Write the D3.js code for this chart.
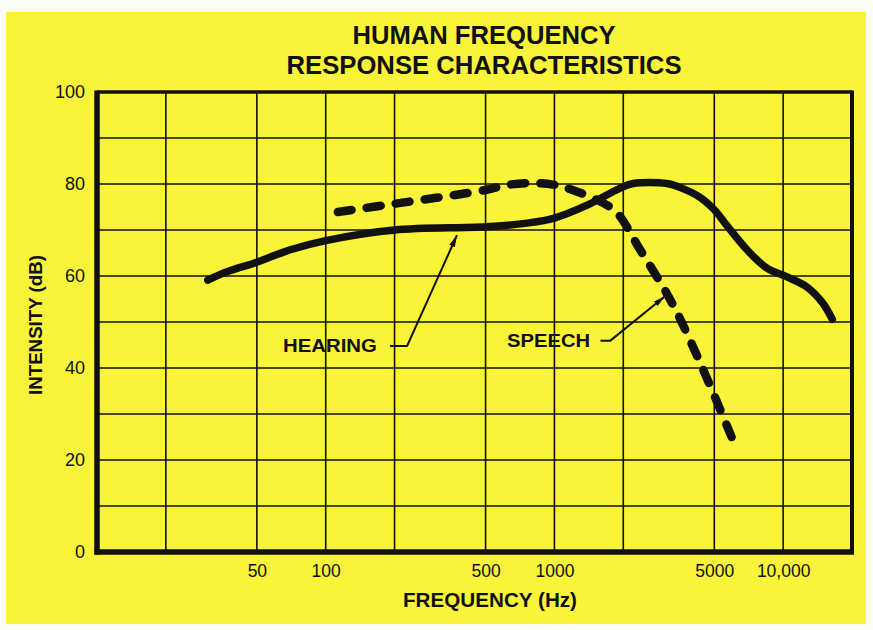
<!DOCTYPE html>
<html>
<head>
<meta charset="utf-8">
<script src="https://cdn.jsdelivr.net/npm/d3@7"></script>
<style>
  html, body { margin: 0; padding: 0; background: #fcfcf6; }
  svg { display: block; }
  text { font-family: "Liberation Sans", Arial, Helvetica, sans-serif; fill: #111; }
</style>
</head>
<body>
<svg id="chart" width="873" height="630"></svg>
<script>
// Frequency grid (Hz) and labelled ticks
const gridFreqs = [10, 20, 50, 100, 200, 500, 1000, 2000, 5000, 10000, 20000];
const tickFreqs = [50, 100, 500, 1000, 5000, 10000];
const tickLabels = ["50", "100", "500", "1000", "5000", "10,000"];
// Intensity grid (dB) and labelled ticks
const gridDb = [0, 10, 20, 30, 40, 50, 60, 70, 80, 90, 100];
const dbTicks = [0, 20, 40, 60, 80, 100];

// Hearing response curve
const hearingFreq = [30.5, 37, 50, 70, 100, 200, 500, 760, 1000, 1390, 1940, 2210, 3100, 3600, 4300, 5000, 5690, 6950, 8500, 10400, 12700, 14900, 16400];
const hearingDb   = [59.1, 60.9, 63, 65.7, 67.7, 70, 70.7, 71.5, 72.6, 75.4, 79.1, 80.1, 80.1, 79.1, 77.2, 74.4, 70.9, 65.7, 61.7, 59.8, 57.6, 54.1, 50.6];

// Speech intensity curve
const speechFreq = [113, 200, 500, 621, 806, 1000, 1200, 1630, 1880, 2370, 3270, 4420, 5950];
const speechDb   = [73.9, 75.7, 78.7, 79.8, 80.2, 79.8, 78.7, 75.9, 73.7, 65.7, 54.1, 40.2, 25.0];

// Callout labels: text anchor and leader line (elbow then tip), in data units
const labelNames = ["HEARING", "SPEECH"];
const labelFreq = [65, 621];
const labelDb = [43.5, 44.6];
const leaderStartFreq = [191, 1590];
const leaderElbowFreq = [227, 1750];
const leaderElbowDb = [44.8, 45.9];
const leaderTipFreq = [375, 3045];
const leaderTipDb = [68.9, 55.6];

const svg = d3.select("#chart");
const ink = "#111";

// Yellow card
svg.append("rect")
  .attr("x", 6).attr("y", 12).attr("width", 860).attr("height", 612)
  .attr("fill", "#f9f43a");

const x = d3.scaleLog().domain([10, 20000]).range([97, 852]);
const y = d3.scaleLinear().domain([0, 100]).range([552, 92]);

const g = svg.append("g");

// Grid lines
g.selectAll("line.vgrid").data(gridFreqs.slice(1, -1)).join("line")
  .attr("class", "vgrid")
  .attr("x1", d => x(d)).attr("x2", d => x(d))
  .attr("y1", y(100)).attr("y2", y(0))
  .attr("stroke", ink).attr("stroke-width", 1.6);

g.selectAll("line.hgrid").data(gridDb.slice(1, -1)).join("line")
  .attr("class", "hgrid")
  .attr("x1", x(10)).attr("x2", x(20000))
  .attr("y1", d => y(d)).attr("y2", d => y(d))
  .attr("stroke", ink).attr("stroke-width", 1.6);

// Frame: heavier on left and bottom
const frame = [
  { x1: x(10), y1: y(100), x2: x(20000), y2: y(100), w: 3.5 },
  { x1: x(20000), y1: y(100) - 1.5, x2: x(20000), y2: y(0), w: 4 },
  { x1: x(10), y1: y(100) - 1.5, x2: x(10), y2: y(0) + 2.5, w: 5.5 },
  { x1: x(10) - 2.5, y1: y(0), x2: x(20000) + 2, y2: y(0), w: 5.5 }
];
g.selectAll("line.frame").data(frame).join("line")
  .attr("class", "frame")
  .attr("x1", d => d.x1).attr("y1", d => d.y1)
  .attr("x2", d => d.x2).attr("y2", d => d.y2)
  .attr("stroke", ink).attr("stroke-width", d => d.w);

// Axis tick labels
const yAxis = d3.axisLeft(y).tickValues(dbTicks).tickSize(0).tickPadding(12);
svg.append("g").attr("transform", `translate(${x(10)},0)`).call(yAxis)
  .call(a => a.select(".domain").remove())
  .selectAll("text")
  .style("font-size", "18px").style("font-family", '"Liberation Sans", Arial, sans-serif')
  .attr("fill", ink);

const xAxis = d3.axisBottom(x).tickValues(tickFreqs)
  .tickFormat((d, i) => tickLabels[i]).tickSize(0).tickPadding(13);
svg.append("g").attr("transform", `translate(0,${y(0)})`).call(xAxis)
  .call(a => a.select(".domain").remove())
  .selectAll("text")
  .style("font-size", "17.5px").style("font-family", '"Liberation Sans", Arial, sans-serif')
  .attr("fill", ink);

// Curves
const hearing = hearingFreq.map((f, i) => [f, hearingDb[i]]);
const speech = speechFreq.map((f, i) => [f, speechDb[i]]);
const line = d3.line().x(d => x(d[0])).y(d => y(d[1])).curve(d3.curveCatmullRom.alpha(0.5));

g.append("path").attr("d", line(hearing))
  .attr("fill", "none").attr("stroke", ink).attr("stroke-width", 7.5)
  .attr("stroke-linecap", "round").attr("stroke-linejoin", "round");

const speechPath = g.append("path").attr("d", line(speech))
  .attr("fill", "none").attr("stroke", ink).attr("stroke-width", 8.5)
  .attr("stroke-linecap", "round").attr("stroke-linejoin", "round");

// Stretch the gaps slightly so the dashed line both starts and ends on a full dash
const dashLen = 14;
const total = speechPath.node().getTotalLength();
const nGaps = Math.round((total - dashLen) / 30);
const period = (total - dashLen) / nGaps;
speechPath.attr("stroke-dasharray", `${dashLen} ${period - dashLen}`);

// Callouts
svg.append("defs").append("marker")
  .attr("id", "barb").attr("viewBox", "0 0 12 6")
  .attr("refX", 12).attr("refY", 3)
  .attr("markerWidth", 12).attr("markerHeight", 6)
  .attr("markerUnits", "userSpaceOnUse")
  .attr("orient", "auto")
  .append("path").attr("d", "M0,0 L12,3 L0,6 Z").attr("fill", ink);

labelNames.forEach((name, i) => {
  svg.append("text")
    .attr("x", x(labelFreq[i])).attr("y", y(labelDb[i]))
    .attr("font-size", 19).attr("font-weight", "bold")
    .attr("textLength", i === 0 ? 94 : 83).attr("lengthAdjust", "spacingAndGlyphs")
    .text(name);
  const pts = [
    [x(leaderStartFreq[i]), y(leaderElbowDb[i])],
    [x(leaderElbowFreq[i]), y(leaderElbowDb[i])],
    [x(leaderTipFreq[i]), y(leaderTipDb[i])]
  ];
  svg.append("path").attr("d", d3.line()(pts))
    .attr("fill", "none").attr("stroke", ink).attr("stroke-width", 2)
    .attr("stroke-linejoin", "round")
    .attr("marker-end", "url(#barb)");
});

// Titles
const titleX = 484;
svg.append("text").attr("x", titleX).attr("y", 44).attr("text-anchor", "middle")
  .attr("font-size", 26).attr("font-weight", "bold")
  .attr("textLength", 263).attr("lengthAdjust", "spacingAndGlyphs")
  .text("HUMAN FREQUENCY");
svg.append("text").attr("x", titleX).attr("y", 74).attr("text-anchor", "middle")
  .attr("font-size", 26).attr("font-weight", "bold")
  .attr("textLength", 395).attr("lengthAdjust", "spacingAndGlyphs")
  .text("RESPONSE CHARACTERISTICS");

svg.append("text").attr("x", 490).attr("y", 607).attr("text-anchor", "middle")
  .attr("font-size", 20.5).attr("font-weight", "bold")
  .attr("textLength", 174).attr("lengthAdjust", "spacingAndGlyphs")
  .text("FREQUENCY (Hz)");

svg.append("text")
  .attr("transform", "translate(42,325) rotate(-90)")
  .attr("text-anchor", "middle")
  .attr("font-size", 18.5).attr("font-weight", "bold")
  .attr("textLength", 140).attr("lengthAdjust", "spacingAndGlyphs")
  .text("INTENSITY (dB)");
</script>
</body>
</html>
